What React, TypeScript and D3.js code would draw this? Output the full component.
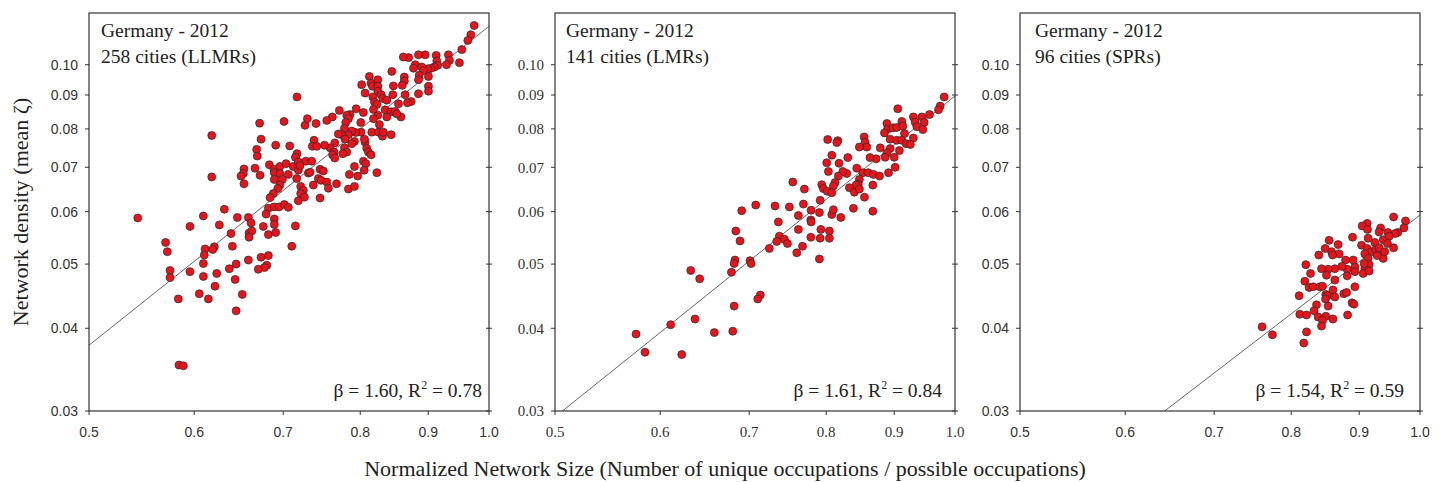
import React from "react";
import * as d3 from "d3";

// ---------- data ----------
const yTickValues = [0.03, 0.04, 0.05, 0.06, 0.07, 0.08, 0.09, 0.1];
const xTickValues = [0.5, 0.6, 0.7, 0.8, 0.9, 1.0];
const titleLine = "Germany - 2012";
const subtitles = ["258 cities (LLMRs)", "141 cities (LMRs)", "96 cities (SPRs)"];
const betas = [1.6, 1.61, 1.54];
const r2s = [0.78, 0.84, 0.59];
const fitAtOne = [0.1143, 0.0897, 0.0593];

const llmrPoints: [number, number][] = [
  [0.717,0.0894],[0.672,0.0816],[0.701,0.0821],[0.727,0.081],[0.73,0.0829],[0.6185,0.0782],[0.6737,0.0772],[0.691,0.0756],[0.708,0.0754],[0.6686,0.0745],[0.6693,0.0728],[0.717,0.0734],[0.715,0.0725],[0.728,0.0715],[0.6835,0.0706],[0.689,0.0695],[0.696,0.0702],[0.7035,0.0709],[0.7123,0.0702],[0.7186,0.0713],[0.6666,0.0698],[0.654,0.0696],[0.6533,0.0685],[0.6507,0.0679],[0.654,0.0661],[0.6725,0.0681],[0.6185,0.0677],[0.6893,0.0687],[0.696,0.0685],[0.7063,0.0683],[0.7186,0.0693],[0.7166,0.0673],[0.699,0.0671],[0.6893,0.0671],[0.7312,0.0686],[0.696,0.0658],[0.6935,0.065],[0.6882,0.0639],[0.6843,0.063],[0.7216,0.0655],[0.7249,0.0646],[0.7216,0.0639],[0.7262,0.0631],[0.7186,0.0623],[0.6823,0.0607],[0.689,0.061],[0.695,0.061],[0.7014,0.0615],[0.7063,0.0609],[0.6796,0.0595],[0.6322,0.0605],[0.6096,0.0591],[0.5441,0.0587],[0.5956,0.057],[0.6267,0.0573],[0.6466,0.0588],[0.659,0.0588],[0.6621,0.0577],[0.6763,0.057],[0.6893,0.0585],[0.6893,0.0574],[0.6395,0.0556],[0.6598,0.0557],[0.663,0.0561],[0.6598,0.0549],[0.6823,0.0554],[0.691,0.0558],[0.715,0.0571],[0.7105,0.0532],[0.571,0.0539],[0.5727,0.0522],[0.6114,0.0527],[0.6213,0.0531],[0.6196,0.0526],[0.6106,0.0516],[0.641,0.0532],[0.6096,0.0501],[0.6452,0.05],[0.6376,0.0492],[0.659,0.0507],[0.6737,0.0512],[0.6823,0.0515],[0.6804,0.0498],[0.6776,0.0494],[0.6705,0.0491],[0.5754,0.0489],[0.5754,0.0477],[0.5956,0.0487],[0.6096,0.0479],[0.6239,0.0484],[0.6441,0.0474],[0.622,0.0463],[0.6053,0.0451],[0.6149,0.0443],[0.5837,0.0443],[0.6521,0.045],[0.6452,0.0425],[0.5844,0.0352],[0.5888,0.0351],
  [0.9746,0.1146],[0.969,0.111],[0.964,0.1088],[0.954,0.1054],[0.95,0.1007],[0.932,0.1035],[0.9338,0.1015],[0.929,0.1],[0.9125,0.1033],[0.9136,0.1012],[0.915,0.0998],[0.9097,0.0992],[0.9046,0.0988],[0.8995,0.0986],[0.8953,0.1035],[0.885,0.1035],[0.87,0.1025],[0.862,0.1027],[0.88,0.1],[0.8774,0.0988],[0.89,0.0992],[0.8927,0.098],[0.886,0.0964],[0.885,0.0949],[0.9004,0.096],[0.9004,0.0928],[0.9004,0.0912],[0.885,0.0904],[0.845,0.0977],[0.8635,0.0958],[0.8635,0.0945],[0.8604,0.0931],[0.8647,0.0901],[0.8738,0.088],[0.8682,0.0876],[0.8548,0.0873],[0.8128,0.096],[0.8248,0.0949],[0.802,0.0933],[0.8152,0.0938],[0.8171,0.0928],[0.8248,0.0928],[0.8473,0.0929],[0.8068,0.0906],[0.8177,0.0894],[0.8248,0.0912],[0.8295,0.0901],[0.832,0.0889],[0.8377,0.0884],[0.8464,0.0901],[0.82,0.0878],[0.8234,0.0871],[0.8353,0.0855],[0.844,0.0849],[0.8498,0.085],[0.8585,0.0834],[0.8523,0.0843],[0.8377,0.0834],[0.8248,0.0839],[0.8186,0.0856],[0.8186,0.0829],[0.8044,0.0847],[0.7943,0.0858],[0.786,0.0841],[0.7816,0.0839],[0.7838,0.0829],[0.7802,0.0818],[0.7716,0.0853],[0.7623,0.0834],[0.755,0.0824],[0.741,0.0815],[0.8007,0.0818],[0.8162,0.0791],[0.8256,0.0791],[0.8314,0.078],[0.8328,0.0791],[0.844,0.0784],[0.827,0.0812],[0.801,0.0791],[0.7938,0.079],[0.7883,0.0794],[0.7838,0.0784],[0.7784,0.0801],[0.7748,0.0784],[0.7703,0.0786],[0.7793,0.0772],[0.792,0.0766],[0.7883,0.076],[0.8068,0.0764],[0.8058,0.0772],[0.7655,0.0762],[0.7593,0.0749],[0.752,0.0756],[0.7384,0.0769],[0.7363,0.0753],[0.742,0.0753],[0.7646,0.0738],[0.7626,0.0731],[0.7784,0.0749],[0.7816,0.0738],[0.7762,0.0734],[0.7655,0.0723],[0.809,0.0748],[0.8114,0.0738],[0.8152,0.0731],[0.8044,0.0715],[0.8078,0.0709],[0.8054,0.0693],[0.792,0.0702],[0.7965,0.0679],[0.7851,0.0683],[0.8234,0.0687],[0.7678,0.0661],[0.7838,0.0649],[0.792,0.0655],[0.7462,0.0695],[0.7505,0.0691],[0.7334,0.0688],[0.7355,0.0715],[0.7208,0.0704],[0.744,0.0673],[0.7475,0.0669],[0.755,0.0665],[0.757,0.0651],[0.7375,0.0658],[0.7462,0.0629],
];

const lmrPoints: [number, number][] = [
  [0.755,0.0665],[0.708,0.0614],[0.7321,0.0612],[0.7505,0.061],[0.691,0.0602],[0.7363,0.0579],[0.7623,0.0592],[0.7623,0.0564],[0.684,0.0561],[0.689,0.0542],[0.7376,0.0551],[0.744,0.0545],[0.7342,0.0541],[0.748,0.0537],[0.7249,0.0528],[0.7602,0.052],[0.6831,0.0507],[0.682,0.0501],[0.701,0.0506],[0.7023,0.0501],[0.6788,0.0486],[0.6326,0.0489],[0.6425,0.0475],[0.7137,0.0449],[0.7105,0.0443],[0.682,0.0432],[0.6373,0.0413],[0.611,0.0405],[0.5754,0.0392],[0.659,0.0394],[0.6804,0.0396],[0.5844,0.0368],[0.6228,0.0365],
  [0.9814,0.0894],[0.9746,0.0866],[0.9718,0.0855],[0.9568,0.0841],[0.9442,0.0834],[0.9304,0.0834],[0.9333,0.0819],[0.948,0.0818],[0.936,0.0806],[0.9458,0.0798],[0.912,0.0821],[0.9056,0.0858],[0.8887,0.0815],[0.8896,0.0799],[0.898,0.0803],[0.904,0.0804],[0.9136,0.0808],[0.885,0.0789],[0.9162,0.0787],[0.8937,0.0772],[0.904,0.0769],[0.912,0.0769],[0.9304,0.0775],[0.9188,0.076],[0.9255,0.0758],[0.9081,0.0742],[0.8937,0.0747],[0.8887,0.0736],[0.886,0.0725],[0.9,0.0725],[0.8785,0.0749],[0.8723,0.0721],[0.863,0.0724],[0.8543,0.0778],[0.8558,0.0764],[0.8583,0.0751],[0.8473,0.0751],[0.8162,0.0768],[0.802,0.0771],[0.8148,0.0763],[0.8078,0.073],[0.8305,0.0724],[0.8007,0.0711],[0.818,0.071],[0.9015,0.07],[0.8912,0.0687],[0.8435,0.0698],[0.8523,0.0687],[0.8604,0.0687],[0.8682,0.0683],[0.8774,0.0679],[0.8473,0.0671],[0.8456,0.066],[0.8426,0.0658],[0.8673,0.0658],[0.829,0.0685],[0.8234,0.069],[0.8171,0.0679],[0.803,0.069],[0.8124,0.0664],[0.81,0.0656],[0.7938,0.0659],[0.796,0.065],[0.8015,0.0644],[0.8078,0.0641],[0.8328,0.0652],[0.84,0.0642],[0.8473,0.0649],[0.8548,0.0631],[0.7703,0.0649],[0.7916,0.0624],[0.769,0.0616],[0.7793,0.0603],[0.7906,0.0598],[0.7789,0.0583],[0.7793,0.0579],[0.8078,0.0594],[0.81,0.0604],[0.8205,0.0588],[0.8386,0.0607],[0.8673,0.0601],[0.7926,0.0564],[0.8044,0.0561],[0.8044,0.0547],[0.7916,0.0547],[0.7789,0.0549],[0.7678,0.0532],[0.7906,0.0509],
];

const sprPoints: [number, number][] = [
  [0.9553,0.0589],[0.9752,0.0581],[0.9725,0.0567],[0.9622,0.0558],[0.9579,0.0556],[0.9459,0.0558],[0.934,0.0567],[0.9316,0.0559],[0.9125,0.0576],[0.9046,0.0571],[0.913,0.0564],[0.8897,0.0549],[0.914,0.0547],[0.9382,0.0544],[0.948,0.0551],[0.9452,0.0537],[0.9553,0.0529],[0.9248,0.0539],[0.9037,0.0534],[0.9125,0.0528],[0.9194,0.0522],[0.9264,0.0526],[0.9328,0.0522],[0.9356,0.0516],[0.9382,0.051],[0.9285,0.0515],[0.9088,0.0518],[0.914,0.051],[0.9157,0.0499],[0.9088,0.0492],[0.9062,0.0484],[0.9157,0.0488],[0.8933,0.0495],[0.8907,0.0507],[0.8933,0.0487],[0.8815,0.0491],[0.8815,0.048],[0.879,0.0507],[0.8733,0.0496],[0.8692,0.0518],[0.8677,0.0535],[0.8579,0.0522],[0.8594,0.0516],[0.8543,0.0543],[0.8484,0.0528],[0.8392,0.0516],[0.8628,0.0492],[0.8528,0.0491],[0.8431,0.0492],[0.8504,0.0481],[0.8628,0.0473],[0.8205,0.0499],[0.8272,0.0484],[0.8191,0.0471],[0.8252,0.0461],[0.8309,0.0462],[0.8406,0.0462],[0.8446,0.0463],[0.811,0.0448],[0.8494,0.045],[0.8519,0.0448],[0.86,0.0457],[0.8628,0.0446],[0.8763,0.0451],[0.8806,0.0453],[0.8933,0.0462],[0.849,0.0443],[0.8528,0.0432],[0.8358,0.0434],[0.8323,0.0425],[0.812,0.042],[0.8215,0.0419],[0.8382,0.0416],[0.8494,0.0417],[0.8446,0.0411],[0.86,0.0413],[0.8821,0.0419],[0.889,0.0437],[0.8918,0.0435],[0.8431,0.0403],[0.8215,0.0395],[0.8176,0.038],[0.7606,0.0402],[0.7744,0.0391],[0.9316,0.0529],[0.9407,0.0522],[0.9077,0.0501],
];

const panelPoints = [llmrPoints, lmrPoints, sprPoints];

// ---------- layout ----------
const W = 1445;
const H = 482;
const panelLefts = [89, 555, 1020];
const plotW = 400;
const top = 13;
const bottom = 411;
const titleOffsets = [12, 11, 15];
const statOffsets = [7, 13, 16];
const tickFonts = ["'Liberation Sans', Arial, sans-serif", "'Liberation Serif', 'Times New Roman', serif", "'Liberation Sans', Arial, sans-serif"];
const tickSizes = [14, 15, 14];
const serif = "'Liberation Serif', 'Times New Roman', serif";
const axisColor = "#333";

function Panel({ i }: { i: number }) {
  const L = panelLefts[i];
  const R = L + plotW;
  const x = d3.scaleLog().domain([0.5, 1.0]).range([L, R]);
  const y = d3.scaleLog().domain([0.03, 0.1197]).range([bottom, top]);
  const fx = [0.5, 1.0];
  const line = d3
    .line<number>()
    .x((d) => x(d))
    .y((d) => y(fitAtOne[i] * Math.pow(d, betas[i])));
  const clipId = `clip-${i}`;
  return (
    <g>
      <defs>
        <clipPath id={clipId}>
          <rect x={L} y={top} width={plotW} height={bottom - top} />
        </clipPath>
      </defs>
      <path d={line(fx) || ""} stroke="#555" strokeWidth={0.9} fill="none" clipPath={`url(#${clipId})`} />
      {panelPoints[i].map((p, k) => (
        <circle key={k} cx={x(p[0])} cy={y(p[1])} r={4} fill="#e8141b" stroke="#2a2a2a" strokeWidth={0.7} />
      ))}
      <rect x={L} y={top} width={plotW} height={bottom - top} fill="none" stroke={axisColor} strokeWidth={1.2} />
      {yTickValues.map((v) => (
        <g key={`y${v}`}>
          <line x1={L - 4} x2={L} y1={y(v)} y2={y(v)} stroke={axisColor} strokeWidth={1} />
          <line x1={R - 3} x2={R + 3} y1={y(v)} y2={y(v)} stroke={axisColor} strokeWidth={1} />
          <text x={L - 11} y={y(v)} dy="0.35em" textAnchor="end" fontFamily={tickFonts[i]} fontSize={tickSizes[i]} fill="#333">
            {v.toFixed(2)}
          </text>
        </g>
      ))}
      {xTickValues.map((v) => (
        <g key={`x${v}`}>
          <line x1={x(v)} x2={x(v)} y1={bottom} y2={bottom + 4} stroke={axisColor} strokeWidth={1} />
          <text x={x(v)} y={bottom + 26} textAnchor="middle" fontFamily={tickFonts[i]} fontSize={tickSizes[i]} fill="#333">
            {v.toFixed(1)}
          </text>
        </g>
      ))}
      <text x={L + titleOffsets[i]} y={37} fontFamily={serif} fontSize={19.5} fill="#222">
        {titleLine}
      </text>
      <text x={L + titleOffsets[i]} y={63} fontFamily={serif} fontSize={19.5} fill="#222">
        {subtitles[i]}
      </text>
      <text x={R - statOffsets[i]} y={397} textAnchor="end" fontFamily={serif} fontSize={19.5} fill="#222">
        {`β = ${betas[i].toFixed(2)}, R`}
        <tspan dy={-8} fontSize={12}>2</tspan>
        <tspan dy={8}>{` = ${r2s[i].toFixed(2)}`}</tspan>
      </text>
    </g>
  );
}

export default function App() {
  return (
    <svg
      width={W}
      height={H}
      viewBox={`0 0 ${W} ${H}`}
      style={{ position: "absolute", left: 0, top: 0, background: "#fff" }}
    >
      <rect x={0} y={0} width={W} height={H} fill="#fff" />
      {[0, 1, 2].map((i) => (
        <Panel key={i} i={i} />
      ))}
      <text
        transform="translate(28,212) rotate(-90)"
        textAnchor="middle"
        fontFamily={serif}
        fontSize={22}
        fill="#222"
      >
        Network density (mean ζ)
      </text>
      <text x={725} y={476} textAnchor="middle" fontFamily={serif} fontSize={22} fill="#222">
        Normalized Network Size (Number of unique occupations / possible occupations)
      </text>
    </svg>
  );
}
